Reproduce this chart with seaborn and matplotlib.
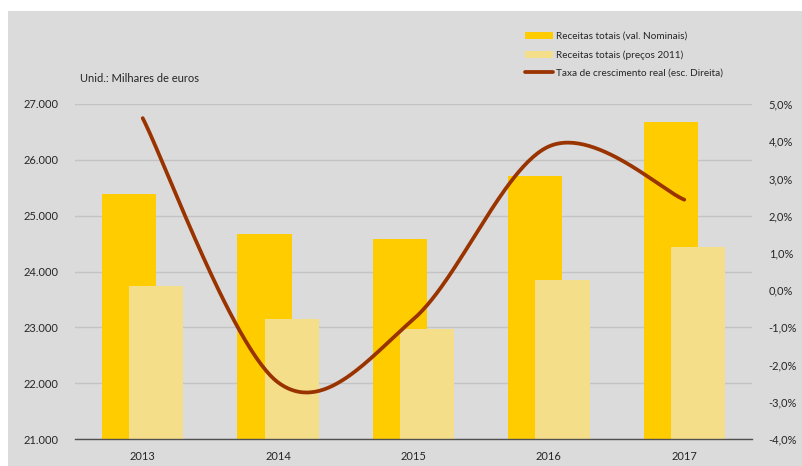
import numpy as np
import pandas as pd
import matplotlib
matplotlib.use("Agg")
import matplotlib.pyplot as plt
from matplotlib.patches import Patch, Rectangle
from matplotlib.lines import Line2D
from matplotlib.ticker import FuncFormatter
import seaborn as sns

# Data
years = ["2013", "2014", "2015", "2016", "2017"]
nominal = [25380, 24680, 24590, 25710, 26680]      # Receitas totais (val. nominais)
real_2011 = [23735, 23150, 22970, 23840, 24430]    # Receitas totais (preços 2011)
growth = [4.62, -2.48, -0.78, 3.86, 2.43]          # Taxa de crescimento real (%)

labels = ["Receitas totais (val. Nominais)",
          "Receitas totais (preços 2011)",
          "Taxa de crescimento real (esc. Direita)"]

GOLD = "#FFCC00"
LIGHT = "#F5DE8A"
LINE = "#993300"
BG = "#DBDBDB"
TXT = "#262626"

sns.set_theme(style="white")
plt.rcParams["font.family"] = ["Lato", "DejaVu Sans"]

fig = plt.figure(figsize=(8.02, 4.66), dpi=100, facecolor="white")
fig.patches.append(Rectangle((8 / 802, 0), 1, 1 - 11 / 466,
                             transform=fig.transFigure, facecolor=BG,
                             edgecolor="none", zorder=-10))

ax = fig.add_axes([75 / 802, 1 - 439 / 466, (752 - 75) / 802, (439 - 104) / 466])
ax.set_facecolor("none")

pos = np.arange(len(years))
df = pd.DataFrame({"pos": pos, "nominal": nominal, "real": real_2011})

sns.barplot(x=df["pos"] - 0.1, y=df["nominal"], native_scale=True, width=0.4,
            color=GOLD, saturation=1, linewidth=0, edgecolor="none", ax=ax, zorder=2)
sns.barplot(x=df["pos"] + 0.1, y=df["real"], native_scale=True, width=0.4,
            color=LIGHT, saturation=1, linewidth=0, edgecolor="none", ax=ax, zorder=3)

ax.set_xlim(-0.5, len(years) - 0.5)
ax.set_ylim(21000, 27000)
ax.set_yticks(np.arange(21000, 27001, 1000))
ax.yaxis.set_major_formatter(FuncFormatter(lambda v, p: f"{int(v):,}".replace(",", ".")))
ax.set_xticks(pos)
ax.set_xticklabels(years)
ax.set_xticks(np.arange(-0.5, len(years), 1), minor=True)
ax.set_xlabel("")
ax.set_ylabel("")
ax.grid(axis="y", color="#C3C3C3", linewidth=1.0, zorder=0)
ax.set_axisbelow(True)
for s in ["left", "right", "top"]:
    ax.spines[s].set_visible(False)
ax.spines["bottom"].set_color("#505050")
ax.spines["bottom"].set_linewidth(1.0)
ax.spines["bottom"].set_zorder(5)
ax.tick_params(axis="x", which="major", length=0, pad=9, labelsize=8, labelcolor=TXT)
ax.tick_params(axis="x", which="minor", length=8, width=1, color="#505050",
               direction="inout")
ax.tick_params(axis="y", length=0, pad=12, labelsize=8, labelcolor=TXT)

# Smoothed growth-rate curve (cubic Bezier through the yearly points)
ax2 = ax.twinx()
ax2.set_ylim(-4, 5)
P = np.column_stack([pos.astype(float), np.array(growth, dtype=float)])
xs, ys = [], []
t = np.linspace(0, 1, 60)
for i in range(len(P) - 1):
    p0 = P[i - 1] if i > 0 else P[i]
    p1, p2 = P[i], P[i + 1]
    p3 = P[i + 2] if i + 2 < len(P) else P[i + 1]
    c1 = p1 + (p2 - p0) / 6
    c2 = p2 - (p3 - p1) / 6
    seg = ((1 - t) ** 3)[:, None] * p1 + (3 * (1 - t) ** 2 * t)[:, None] * c1 \
        + (3 * (1 - t) * t ** 2)[:, None] * c2 + (t ** 3)[:, None] * p2
    xs.extend(seg[:, 0])
    ys.extend(seg[:, 1])
sns.lineplot(x=xs, y=ys, sort=False, estimator=None, color=LINE, linewidth=2.7,
             ax=ax2, solid_capstyle="round")
ax2.set_xlim(-0.5, len(years) - 0.5)
ax2.set_yticks(np.arange(-4, 5.1, 1))
ax2.yaxis.set_major_formatter(FuncFormatter(lambda v, p: f"{v:.1f}%".replace(".", ",")))
for s in ["left", "right", "top", "bottom"]:
    ax2.spines[s].set_visible(False)
ax2.tick_params(axis="y", length=0, pad=12, labelsize=8, labelcolor=TXT)
ax2.grid(False)

fig.text(80 / 802, 1 - 79 / 466, "Unid.: Milhares de euros", fontsize=8,
         color=TXT, va="center", ha="left")

handles = [Patch(facecolor=GOLD, edgecolor="none"),
           Patch(facecolor=LIGHT, edgecolor="none"),
           Line2D([0], [0], color=LINE, linewidth=2.7)]
fig.legend(handles, labels, loc="upper left",
           bbox_to_anchor=(525 / 802, 1 - 32 / 466), frameon=False,
           fontsize=7.2, handlelength=2.8, handletextpad=0.25,
           labelspacing=0.9, borderpad=0, borderaxespad=0,
           labelcolor=TXT)

fig.savefig("out.png", dpi=100, facecolor="white")
